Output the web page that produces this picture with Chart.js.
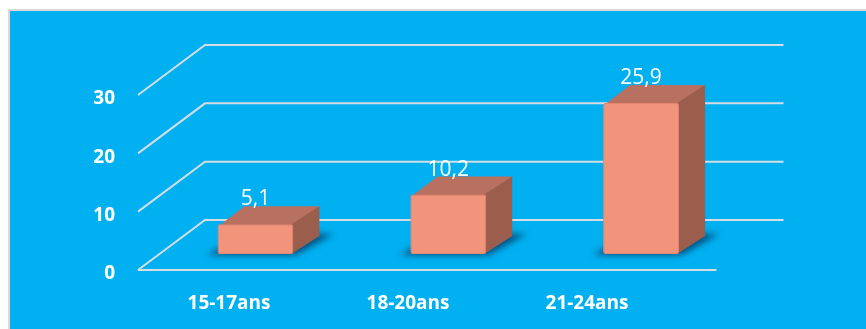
<!DOCTYPE html>
<html>
<head>
<meta charset="utf-8">
<script src="https://cdn.jsdelivr.net/npm/chart.js@4"></script>
<style>
  html, body { margin: 0; padding: 0; background: #fff; }
  #wrap { position: relative; width: 866px; height: 329px; }
</style>
</head>
<body>
<div id="wrap"><canvas id="chart"></canvas></div>
<script>
// data
const categories = ['15-17ans', '18-20ans', '21-24ans'];
const values = [5.1, 10.2, 25.9];
const yTicks = [0, 10, 20, 30];

// fake 3d offsets
const WALL = { dx: 67, dy: -50 };   // front edge -> back wall
const SHIFT = { dx: 21, dy: -16 };  // front edge -> front face of bars
const DEPTH = { dx: 26, dy: -18 };  // bar thickness

let fmt = v => v.toString().replace('.', ',');

let frame = {
    id: 'frame',
    beforeDraw(chart) {
        let c = chart.ctx;
        c.save();
        c.fillStyle = '#fff';
        c.fillRect(0, 0, chart.width, chart.height);
        c.fillStyle = '#d9d9d9';
        c.fillRect(8, 9, chart.width, chart.height);
        c.fillStyle = '#00b0f0';
        c.fillRect(10, 11, chart.width, chart.height);
        c.restore();
    }
};

// category labels sit closer together than the bars
let labelAxis = {
    id: 'labelAxis',
    afterLayout(chart) {
        let s = chart.scales.x2;
        s.left = 139.5;
        s.right = 676.5;
        s.width = s.right - s.left;
        s.configure();
    }
};

let box3d = {
    id: 'box3d',
    beforeDatasetsDraw(chart) {
        let c = chart.ctx;
        let y = chart.scales.y, area = chart.chartArea;
        c.save();
        c.strokeStyle = '#d3dde3';
        c.lineWidth = 2;
        yTicks.forEach(v => {
            let py = y.getPixelForValue(v);
            c.beginPath();
            c.moveTo(area.left, py);
            c.lineTo(area.left + WALL.dx, py + WALL.dy);
            c.lineTo(area.right + WALL.dx, py + WALL.dy);
            if (v === 0) {
                c.moveTo(area.left, py);
                c.lineTo(area.right, py);
            }
            c.stroke();
        });
        c.restore();

        c.save();
        c.translate(SHIFT.dx, SHIFT.dy);
        chart.getDatasetMeta(0).data.forEach(bar => {
            let { x, y, base, width } = bar.getProps(['x', 'y', 'base', 'width'], true);
            let l = x - width / 2, r = x + width / 2;
            // shadow on the floor
            c.save();
            c.fillStyle = 'rgba(4, 70, 115, 0.9)';
            c.filter = 'blur(3px)';
            c.beginPath();
            c.moveTo(l - 10, base + 1);
            c.lineTo(r + 2, base + 1);
            c.lineTo(r + DEPTH.dx + 14, base + DEPTH.dy - 2);
            c.lineTo(l + DEPTH.dx, base + DEPTH.dy - 2);
            c.closePath();
            c.fill();
            c.restore();
            // top face, slightly under the front face
            c.fillStyle = '#b87060';
            c.beginPath();
            c.moveTo(l + 1, y + 2);
            c.lineTo(r, y + 2);
            c.lineTo(r + DEPTH.dx, y + DEPTH.dy);
            c.lineTo(l + DEPTH.dx + 1, y + DEPTH.dy);
            c.closePath();
            c.fill();
            // side face
            c.fillStyle = '#9b5e4d';
            c.beginPath();
            c.moveTo(r - 2, y);
            c.lineTo(r + DEPTH.dx, y + DEPTH.dy);
            c.lineTo(r + DEPTH.dx, base + DEPTH.dy);
            c.lineTo(r - 2, base);
            c.closePath();
            c.fill();
        });
    },
    afterDatasetsDraw(chart) {
        let c = chart.ctx;
        chart.getDatasetMeta(0).data.forEach((bar, i) => {
            let { x, y } = bar.getProps(['x', 'y'], true);
            c.fillStyle = '#fff';
            c.font = '21px "Open Sans"';
            c.textAlign = 'center';
            c.textBaseline = 'alphabetic';
            c.fillText(fmt(values[i]), x, y + DEPTH.dy - 1);
        });
        c.restore();
    }
};

new Chart(document.getElementById('chart'), {
    type: 'bar',
    data: {
        labels: categories,
        datasets: [{
            data: values,
            backgroundColor: '#f2937b',
            borderColor: '#e3866f',
            borderWidth: 1,
            borderRadius: 2,
            borderSkipped: false,
            categoryPercentage: 1,
            barPercentage: 0.394,
            clip: false
        }]
    },
    options: {
        responsive: true,
        maintainAspectRatio: false,
        animation: false,
        layout: { padding: { top: 95, right: 149.5, bottom: 0, left: 0 } },
        plugins: {
            legend: { display: false },
            tooltip: { enabled: false }
        },
        scales: {
            x: { display: false },
            x2: {
                type: 'category',
                labels: categories,
                position: 'bottom',
                grid: { display: false, drawTicks: false },
                border: { display: false },
                ticks: {
                    color: '#fff',
                    padding: 22,
                    font: { family: 'Open Sans', size: 19, weight: 'bold' }
                },
                afterFit: s => { s.height = 59; }
            },
            y: {
                min: 0,
                max: 30,
                afterBuildTicks: s => { s.ticks = yTicks.map(v => ({ value: v })); },
                grid: { display: false, drawTicks: false },
                border: { display: false },
                ticks: {
                    color: '#fff',
                    padding: 23,
                    labelOffset: 4,
                    font: { family: 'Open Sans', size: 19, weight: 'bold' }
                },
                afterFit: s => { s.width = 138; }
            }
        }
    },
    plugins: [frame, labelAxis, box3d]
});
</script>
</body>
</html>
